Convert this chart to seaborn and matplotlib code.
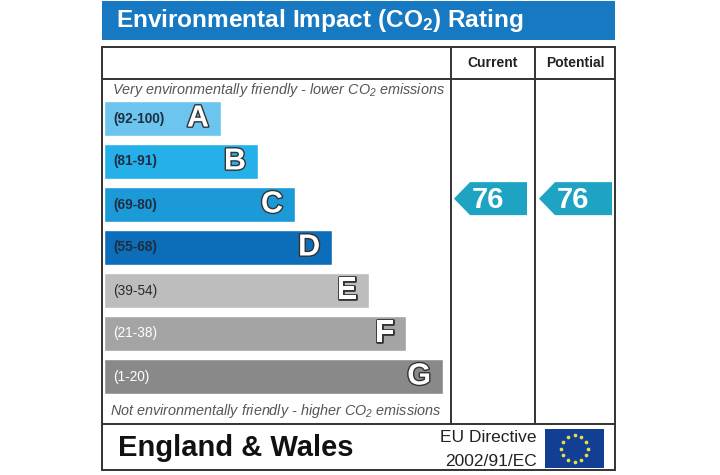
import numpy as np
import pandas as pd
import seaborn as sb
import matplotlib.pyplot as plt
from matplotlib.patches import Rectangle, Polygon
import matplotlib.patheffects as pe

# rating bands, top (best) to bottom (worst)
band_letters = ['A', 'B', 'C', 'D', 'E', 'F', 'G']
band_ranges = ['(92-100)', '(81-91)', '(69-80)', '(55-68)', '(39-54)', '(21-38)', '(1-20)']
band_low = [92, 81, 69, 55, 39, 21, 1]
band_high = [100, 91, 80, 68, 54, 38, 20]
band_length = [3.16, 4.16, 5.16, 6.16, 7.16, 8.16, 9.16]
band_colours = ['#6cc5ee', '#25b0ea', '#1b9ad7', '#0c6db8', '#bdbdbd', '#a4a4a4', '#898989']
range_text_colours = ['#1e2e40', '#1e2e40', '#1e2e40', '#1e2e40', '#2a2a2a', 'white', 'white']

current_rating = 76
potential_rating = 76

sb.set_theme(style='white')
plt.rcParams['font.family'] = ['Liberation Sans', 'DejaVu Sans']
plt.rcParams['mathtext.default'] = 'regular'

fig = plt.figure(figsize=(7.2, 4.75), dpi=100)
fig.patch.set_facecolor('white')

# pixel-space overlay for frame and text
ax = fig.add_axes([0, 0, 1, 1])
ax.set_xlim(0, 720)
ax.set_ylim(475, 0)
ax.axis('off')

# title bar
ax.add_patch(Rectangle((102, 1), 513, 39, color='#1679c1', lw=0))
ax.text(116, 21, 'Environmental Impact (CO$_2$) Rating', color='white', fontsize=17.6,
        fontweight='bold', va='center', ha='left')

# frame
line_kw = dict(color='#333333', lw=1.4)
ax.add_patch(Rectangle((102, 47), 513, 423, fill=False, **line_kw))
ax.plot([102, 615], [79, 79], **line_kw)
ax.plot([102, 615], [424, 424], **line_kw)
ax.plot([451, 451], [47, 424], **line_kw)
ax.plot([535, 535], [47, 424], **line_kw)

ax.text(493, 63, 'Current', fontsize=10, fontweight='bold', ha='center', va='center', color='#222222')
ax.text(575, 63, 'Potential', fontsize=10, fontweight='bold', ha='center', va='center', color='#222222')

ax.text(112, 90, 'Very environmentally friendly - lower CO$_2$ emissions', fontsize=10.4,
        style='italic', color='#555555', ha='left', va='center')
ax.text(110, 411, 'Not environmentally friendly - higher CO$_2$ emissions', fontsize=10.4,
        style='italic', color='#555555', ha='left', va='center')

# footer
ax.text(118, 448, 'England & Wales', fontsize=21, fontweight='bold', ha='left', va='center', color='#111111')
ax.text(537, 438, 'EU Directive', fontsize=12.5, ha='right', va='center', color='#222222')
ax.text(537, 461, '2002/91/EC', fontsize=12.5, ha='right', va='center', color='#222222')
ax.add_patch(Rectangle((545, 429), 59, 39, color='#123f93', lw=0))
ang = np.linspace(0, 2 * np.pi, 12, endpoint=False)
ax.scatter(574.5 + 13.5 * np.cos(ang), 448.5 + 13.5 * np.sin(ang), marker='o', s=7,
           color='#e8e04a', linewidths=0, zorder=5)

# bars
bar_top, pitch = 97, 43
ax_bars = fig.add_axes([104 / 720, 1 - (bar_top + 7 * pitch) / 475, 339 / 720, 7 * pitch / 475])
df = pd.DataFrame({'band': band_letters, 'length': band_length})
sb.barplot(data=df, x='length', y='band', hue='band', palette=band_colours, legend=False,
           orient='h', width=35 / 43, saturation=1, ax=ax_bars)
ax_bars.set_xlim(0, 9.16)
ax_bars.set_ylim(6.5, -0.5)
ax_bars.axis('off')

for i, (letter, rng, length) in enumerate(zip(band_letters, band_ranges, band_length)):
    ax_bars.annotate(rng, (0, i), xytext=(9, 0), textcoords='offset pixels', fontsize=9.8,
                     fontweight='bold' if i < 4 else 'normal', color=range_text_colours[i],
                     ha='left', va='center')
    ax_bars.annotate(letter, (length, i), xytext=(-12, 0), textcoords='offset pixels',
                     fontsize=22, fontweight='bold', color='white', ha='right', va='center',
                     path_effects=[pe.withStroke(linewidth=2.0, foreground='#333333')])

# rating arrows


def arrow_y(value):
    for i in range(len(band_low)):
        if band_low[i] <= value <= band_high[i]:
            frac = (value - band_low[i]) / (band_high[i] - band_low[i])
            return bar_top + pitch * (i + 1 - frac)
    return bar_top


for value, tip in [(current_rating, 454), (potential_rating, 539)]:
    c = arrow_y(value)
    h = 16.5
    ax.add_patch(Polygon([(tip, c), (tip + 16, c - h), (tip + 73, c - h), (tip + 73, c + h),
                          (tip + 16, c + h)], closed=True, color='#1ea3c2', lw=0))
    ax.text(tip + 34, c + 1, str(value), color='white', fontsize=21, fontweight='bold',
            ha='center', va='center')

plt.savefig('out.png', dpi=100, facecolor='white')
